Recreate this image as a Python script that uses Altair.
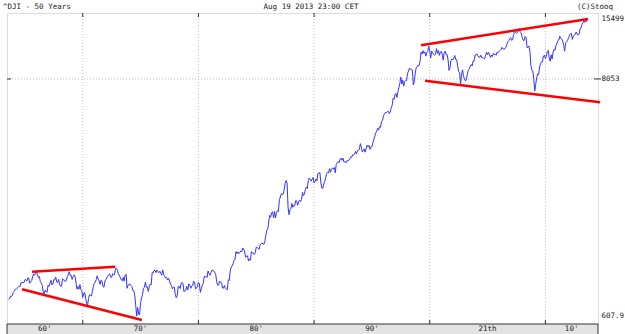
import altair as alt
import pandas as pd

# ---- data: DJI monthly closes, Aug 1963 .. Aug 2013 ----
START_YEAR, START_MONTH = 1963, 8

close_1960s = [
    729, 733, 755, 751, 763,
    785, 800, 813, 811, 821, 832, 841, 838, 875, 873, 875, 874,
    903, 903, 889, 922, 918, 868, 882, 893, 931, 961, 947, 969,
    984, 952, 925, 934, 884, 870, 847, 788, 774, 807, 792, 786,
    850, 839, 866, 897, 853, 860, 904, 901, 927, 880, 876, 905,
    855, 841, 841, 912, 899, 898, 883, 896, 936, 952, 985, 944,
    946, 905, 935, 950, 938, 873, 815, 837, 813, 856, 812, 800,
]
close_1970s = [
    744, 778, 786, 736, 700, 684, 734, 765, 761, 756, 794, 839,
    869, 879, 904, 942, 908, 891, 858, 898, 887, 839, 831, 890,
    902, 928, 941, 954, 961, 929, 925, 964, 953, 956, 1018, 1020,
    999, 955, 951, 921, 901, 892, 926, 888, 947, 957, 822, 851,
    856, 861, 847, 837, 802, 802, 757, 679, 607.9, 666, 619, 616,
    704, 739, 768, 821, 832, 879, 832, 835, 794, 836, 861, 852,
    975, 973, 999, 997, 975, 1003, 985, 974, 990, 965, 947, 1005,
    954, 936, 919, 927, 899, 916, 890, 861, 847, 818, 830, 831,
    770, 742, 757, 837, 841, 819, 862, 877, 866, 792, 799, 805,
    839, 809, 862, 855, 822, 842, 846, 888, 879, 816, 822, 839,
]
close_1980s = [
    876, 863, 786, 817, 851, 868, 935, 933, 932, 924, 993, 964,
    947, 975, 1004, 998, 992, 977, 952, 881, 850, 853, 889, 875,
    871, 824, 823, 848, 820, 812, 809, 901, 896, 992, 1039, 1047,
    1076, 1113, 1130, 1226, 1200, 1222, 1199, 1216, 1233, 1225, 1276, 1259,
    1221, 1155, 1165, 1171, 1105, 1132, 1115, 1224, 1207, 1207, 1189, 1212,
    1287, 1284, 1267, 1258, 1315, 1335, 1347, 1334, 1329, 1374, 1472, 1547,
    1571, 1709, 1819, 1784, 1877, 1893, 1775, 1898, 1768, 1878, 1914, 1896,
    2158, 2224, 2305, 2286, 2292, 2419, 2572, 2663, 2596, 1994, 1834, 1939,
    1958, 2072, 1988, 2032, 2031, 2142, 2129, 2032, 2113, 2149, 2115, 2169,
    2342, 2258, 2294, 2419, 2480, 2440, 2661, 2737, 2693, 2645, 2706, 2753,
]
close_1990s = [
    2591, 2627, 2707, 2657, 2877, 2881, 2905, 2614, 2452, 2442, 2560, 2634,
    2736, 2882, 2914, 2888, 3028, 2907, 3025, 3044, 3017, 3069, 2895, 3169,
    3223, 3268, 3235, 3359, 3397, 3319, 3394, 3257, 3272, 3226, 3305, 3301,
    3310, 3371, 3435, 3428, 3527, 3516, 3539, 3651, 3555, 3681, 3684, 3754,
    3978, 3832, 3636, 3682, 3758, 3625, 3765, 3913, 3843, 3908, 3739, 3834,
    3844, 4011, 4158, 4321, 4465, 4556, 4708, 4611, 4789, 4755, 5074, 5117,
    5395, 5486, 5587, 5569, 5643, 5655, 5529, 5616, 5882, 6029, 6522, 6448,
    6813, 6878, 6583, 7009, 7331, 7673, 8223, 7622, 7945, 7442, 7823, 7908,
    7907, 8546, 8800, 9063, 8900, 8952, 8883, 7539, 7843, 8592, 9117, 9181,
    9359, 9307, 9786, 10789, 10560, 10971, 10655, 10829, 10337, 10730, 10878, 11497,
]
close_2000s = [
    10941, 10128, 10922, 10734, 10522, 10448, 10522, 11215, 10651, 10971, 10414, 10788,
    10887, 10495, 9879, 10735, 10912, 10502, 10523, 9950, 8848, 9075, 9852, 10021,
    9920, 10106, 10404, 9946, 9925, 9243, 8737, 8664, 7592, 8397, 8896, 8342,
    8054, 7891, 7992, 8480, 8850, 8985, 9234, 9416, 9275, 9801, 9782, 10454,
    10488, 10584, 10358, 10226, 10188, 10435, 10140, 10174, 10080, 10027, 10428, 10783,
    10490, 10766, 10504, 10193, 10467, 10275, 10641, 10482, 10569, 10440, 10806, 10718,
    10865, 10993, 11109, 11367, 11168, 11150, 11186, 11381, 11679, 12081, 12222, 12463,
    12622, 12269, 12354, 13063, 13628, 13409, 13212, 13358, 13896, 13930, 13372, 13265,
    12650, 12266, 12263, 12820, 12638, 11350, 11378, 11544, 10851, 9325, 8829, 8776,
    8001, 7063, 7609, 8168, 8500, 8447, 9172, 9496, 9712, 9713, 10345, 10428,
]
close_2010s = [
    10067, 10325, 10857, 11009, 10137, 9774, 10466, 10015, 10788, 11118, 11006, 11578,
    11892, 12226, 12320, 12811, 12570, 12414, 12143, 11614, 10913, 11955, 12046, 12218,
    12633, 12952, 13212, 13214, 12393, 12880, 13009, 13091, 13437, 13096, 13026, 13104,
    13861, 14054, 14579, 14840, 15116, 14910, 15499, 15010,
]

closes = close_1960s + close_1970s + close_1980s + close_1990s + close_2000s + close_2010s
t_vals = [START_YEAR + (START_MONTH - 1 + i) / 12 for i in range(len(closes))]
series = pd.DataFrame({"t": t_vals, "close": closes})

x_domain = [1963.45, 2014.55]
y_domain = [556.8, 16532]
y_ticks = [607.9, 8053, 15499]
grid_value = 8053
decades = [1970, 1980, 1990, 2000, 2010]
decade_labels = ["60'", "70'", "80'", "90'", "21th", "10'"]
decade_label_pos = [1966.72, 1975, 1985, 1995, 2005, 2012.27]

trend_id = ["a", "a", "b", "b", "c", "c", "d", "d"]
trend_t = [1965.61, 1972.81, 1964.75, 1975.11, 1999.25, 2013.69, 1999.6, 2014.73]
trend_v = [985, 1040, 813, 582, 11626, 15486, 7902, 6245]

title_left = "^DJI - 50 Years"
title_mid = "Aug 19 2013 23:00 CET"
title_right = "(C)Stooq"

FONT = "DejaVu Sans Mono"
FS = 7.5
W, H = 591, 311

xs = alt.Scale(domain=x_domain, nice=False, zero=False)
ys = alt.Scale(type="log", domain=y_domain, nice=False)
yaxis = alt.Axis(
    orient="right",
    values=y_ticks,
    labelExpr="datum.value < 1000 ? format(datum.value, '.1f') : format(datum.value, 'd')",
    ticks=False,
    domain=False,
    grid=False,
    title=None,
    labelFont=FONT,
    labelFontSize=FS,
    labelColor="#222",
    labelPadding=3,
    labelBaseline="middle",
)

decade_df = pd.DataFrame({"t": decades})
labels_df = pd.DataFrame({"t": decade_label_pos, "lab": decade_labels})
trend_df = pd.DataFrame({"id": trend_id, "t": trend_t, "v": trend_v})
grid_df = pd.DataFrame({"v": [grid_value]})

vgrid = alt.Chart(decade_df).mark_rule(color="#bdbdbd", strokeDash=[1, 2], strokeWidth=1).encode(
    x=alt.X("t:Q", scale=xs, axis=None)
)
hgrid = alt.Chart(grid_df).mark_rule(color="#bdbdbd", strokeDash=[1, 2], strokeWidth=1).encode(
    y=alt.Y("v:Q", scale=ys, axis=yaxis)
)
top_ticks = alt.Chart(decade_df).mark_rule(color="#333", strokeWidth=1).encode(
    x=alt.X("t:Q", scale=xs, axis=None), y=alt.value(0), y2=alt.value(4)
)
bot_ticks = alt.Chart(decade_df).mark_rule(color="#333", strokeWidth=1).encode(
    x=alt.X("t:Q", scale=xs, axis=None), y=alt.value(H - 4), y2=alt.value(H)
)
left_tick = alt.Chart(grid_df).mark_rule(color="#333", strokeWidth=1).encode(
    y=alt.Y("v:Q", scale=ys, axis=yaxis), x=alt.value(0), x2=alt.value(4)
)
right_tick = alt.Chart(grid_df).mark_rule(color="#333", strokeWidth=1).encode(
    y=alt.Y("v:Q", scale=ys, axis=yaxis), x=alt.value(W - 4), x2=alt.value(W + 3)
)

line = alt.Chart(series).mark_line(color="#3333ff", strokeWidth=1).encode(
    x=alt.X("t:Q", scale=xs, axis=None),
    y=alt.Y("close:Q", scale=ys, axis=yaxis),
)

trends = alt.Chart(trend_df).mark_line(color="#ff0000", strokeWidth=2.5, clip=False).encode(
    x=alt.X("t:Q", scale=xs, axis=None),
    y=alt.Y("v:Q", scale=ys, axis=yaxis),
    detail="id:N",
)

band = alt.Chart(grid_df).mark_rect(fill="#e3e3e3", stroke="#333", strokeWidth=1).encode(
    x=alt.value(0), x2=alt.value(W), y=alt.value(H), y2=alt.value(H + 11)
)
band_labels = alt.Chart(labels_df).mark_text(
    font=FONT, fontSize=FS, color="#222", baseline="middle", align="center"
).encode(
    x=alt.X("t:Q", scale=xs, axis=None), y=alt.value(H + 5), text="lab:N"
)

def label(txt, xpx, align):
    return alt.Chart(pd.DataFrame({"s": [txt]})).mark_text(
        font=FONT, fontSize=FS, color="#222", baseline="alphabetic", align=align
    ).encode(x=alt.value(xpx), y=alt.value(-4), text="s:N")

titles = label(title_left, -4, "left") + label(title_mid, 304, "center") + label(title_right, 606, "right")

chart = alt.layer(
    vgrid, hgrid, top_ticks, bot_ticks, left_tick, right_tick, line, trends, band, band_labels, titles
).properties(
    width=W,
    height=H,
    autosize=alt.AutoSizeParams(type="none"),
    padding={"left": 7, "top": 13, "right": 27, "bottom": 10},
).configure_view(stroke="#333", strokeWidth=1).configure(background="white")

chart.save("out.html", embed_options={"renderer": "svg", "actions": False})
